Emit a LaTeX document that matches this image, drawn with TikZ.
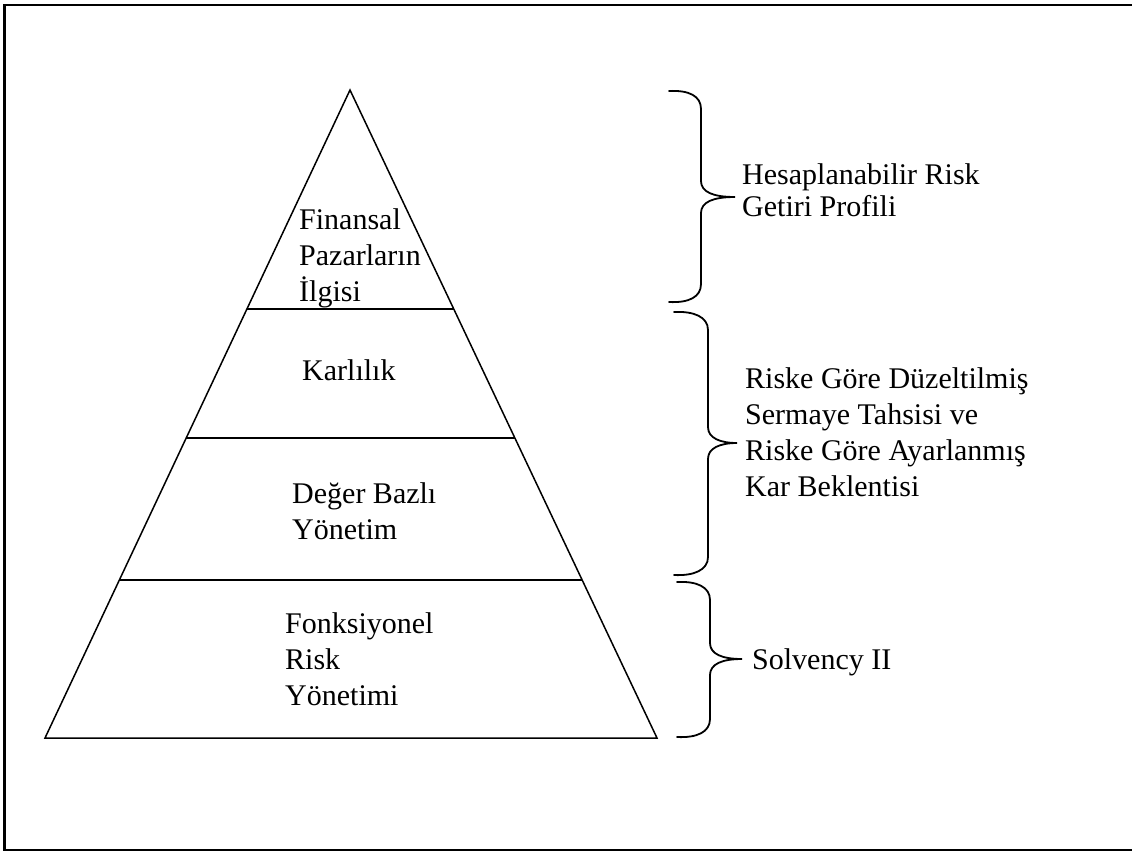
\documentclass[tikz,border=0pt]{standalone}
\usepackage{fontspec}
\usetikzlibrary{calc}
\setmainfont{Liberation Serif}
\newcommand{\txtlines}[1]{\begin{tabular}[t]{@{}l@{}}#1\end{tabular}}
% curly brace opening to the right: x0, top y, spine x, tip x, tip y, bottom y
\newcommand{\curlybrace}[6]{%
  \draw[bracepen] (#1,#2) .. controls (#1+20,#2-1) and (#3,#2+5) .. (#3,#2+18)
    -- (#3,#5-16) .. controls (#3,#5-5) and (#3+12,#5) .. (#4,#5)
    .. controls (#3+12,#5) and (#3,#5+5) .. (#3,#5+16)
    -- (#3,#6-18) .. controls (#3,#6-5) and (#1+20,#6+1) .. (#1,#6);}
\begin{document}
\begin{tikzpicture}[x=1pt,y=-1pt,
  pen/.style={line width=1.5pt,black},
  bracepen/.style={line width=1.8pt,black,line cap=round},
  frame/.style={line width=2.6pt,black},
  lbl/.style={inner sep=0pt,anchor=base west,font=\fontsize{30}{36}\selectfont},
  lbltight/.style={lbl,font=\fontsize{30}{32}\selectfont}]
\useasboundingbox (0,0) rectangle (1132,852);
\fill[white] (0,0) rectangle (1132,852);
% outer frame, open on the right
\draw[frame] (1132,5) -- (4.5,5) -- (4.5,850) -- (1132,850);

% pyramid outline and its tiers
\coordinate (apex) at (350,90);
\coordinate (bl) at (45,738);
\coordinate (br) at (657,738);
\draw[pen,line join=miter] (apex) -- (bl) -- (br) -- cycle;
\draw[pen] ($(apex)!{219/648}!(bl)$) -- ($(apex)!{219/648}!(br)$);
\draw[pen] ($(apex)!{348/648}!(bl)$) -- ($(apex)!{348/648}!(br)$);
\draw[pen] ($(apex)!{490/648}!(bl)$) -- ($(apex)!{490/648}!(br)$);

% tier labels
\node[lbl] (fin) at (299,229) {\txtlines{Finansal\\Pazarların\\İlgisi}};
\node[lbl] (kar) at (302,380) {Karlılık};
\node[lbl] (deg) at (292,503) {\txtlines{Değer Bazlı\\Yönetim}};
\node[lbl] (fon) at (285,633) {\txtlines{Fonksiyonel\\Risk\\Yönetimi}};

% braces
\curlybrace{669}{91}{701}{735}{197}{302}
\curlybrace{674}{312}{708}{737}{443}{575}
\curlybrace{677}{582}{710}{742}{659}{737}

% brace labels
\node[lbltight] (hes) at (742,184) {\txtlines{Hesaplanabilir Risk\\Getiri Profili}};
\node[lbl] (rgd) at (745,388) {\txtlines{Riske Göre Düzeltilmiş\\Sermaye Tahsisi ve\\Riske Göre Ayarlanmış\\Kar Beklentisi}};
\node[lbl] (sol) at (752,669) {Solvency II};
\end{tikzpicture}
\end{document}
